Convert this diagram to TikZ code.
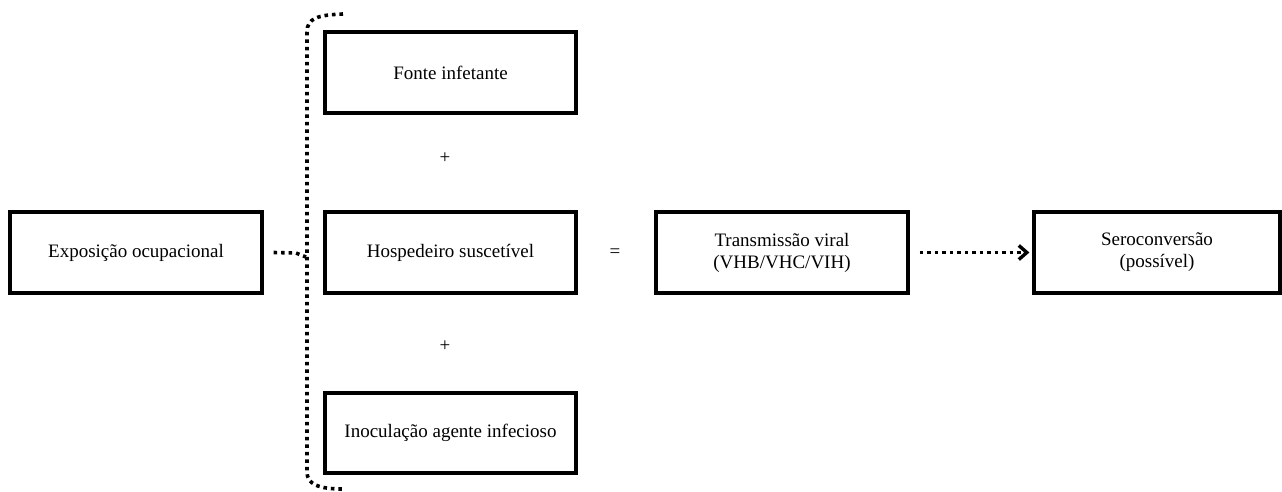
\documentclass[tikz,border=0pt]{standalone}
\usepackage{fontspec}
\setmainfont{Liberation Serif}
\usetikzlibrary{arrows.meta}
\begin{document}
\begin{tikzpicture}[x=1pt,y=-1pt,
  every node/.style={font=\fontsize{19}{22}\selectfont, align=center},
  stepbox/.style={draw, line width=3.2pt, rectangle, minimum height=81pt, inner sep=0pt},
  dotline/.style={line width=3.6pt, dash pattern=on 3.6pt off 3.9pt},
  sym/.style={inner sep=0pt}]
  \useasboundingbox (0,0) rectangle (1282,491);

  % boxes
  \node[stepbox, minimum width=252pt] (expo) at (136,252.5) {Exposição ocupacional};
  \node[stepbox, minimum width=251pt] (fonte) at (450.5,72.5) {Fonte infetante};
  \node[stepbox, minimum width=251pt] (hosp) at (450.5,252.5) {Hospedeiro suscetível};
  \node[stepbox, minimum width=251pt, minimum height=80pt] (inoc) at (450.5,433) {Inoculação agente infecioso};
  \node[stepbox, minimum width=252pt] (trans) at (782,252.5) {Transmissão viral\\(VHB/VHC/VIH)};
  \node[stepbox, minimum width=246pt] (sero) at (1157,252.5) {Seroconversão\\(possível)};

  % operators
  \node[sym] (plus1) at (445,158) {+};
  \node[sym] (plus2) at (445,346) {+};
  \node[sym] (eq) at (615,253) {=};

  % dotted brace grouping the three factors
  \coordinate (btop) at (343,14);
  \coordinate (bbot) at (343,489);
  \coordinate (cusp) at (306,257);
  \draw[dotline] (btop) .. controls (318,15) and (307,18) .. (307,32)
    -- (307,472) .. controls (307,484) and (318,489) .. (bbot);
  \draw[dotline] ([xshift=10pt]expo.east) -- (296,253) -- (cusp);

  % dotted arrow to the outcome
  \draw[dotline, -{Straight Barb[length=8pt,width=14pt,line width=3.4pt]}]
    ([xshift=10pt]trans.east) -- ([xshift=-3pt]sero.west);
\end{tikzpicture}
\end{document}
